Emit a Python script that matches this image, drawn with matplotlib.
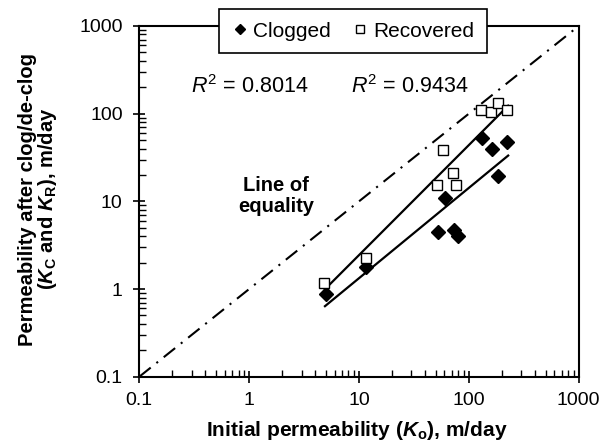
import numpy as np
import matplotlib
matplotlib.use("Agg")
import matplotlib.pyplot as plt
from matplotlib.ticker import LogLocator, FixedLocator, NullFormatter

plt.rcParams['font.family'] = ['Liberation Sans', 'DejaVu Sans']
plt.rcParams['mathtext.fontset'] = 'custom'
plt.rcParams['mathtext.rm'] = 'Liberation Sans'
plt.rcParams['mathtext.it'] = 'Liberation Sans:italic'
plt.rcParams['mathtext.bf'] = 'Liberation Sans:bold'
plt.rcParams['mathtext.bfit'] = 'Liberation Sans:bold:italic'

# ---- data ----
clogged_x = [4.97, 11.7, 52, 60.7, 73.3, 79, 131, 161, 186, 224]
clogged_y = [0.88, 1.77, 4.43, 10.8, 4.71, 4.03, 53.2, 39.2, 19.5, 47.5]
recovered_x = [4.83, 11.5, 51, 58.6, 71.3, 76.4, 129, 158, 183, 221]
recovered_y = [1.16, 2.24, 15.5, 38.5, 20.9, 15.5, 109, 105, 133, 109]

# power-law trend lines y = a * x^b
clogged_fit = (0.124, 1.03)
recovered_fit = (0.1355, 1.255)
fit_range = [4.9, 228]

r2_labels = ["$R^2$ = 0.8014", "$R^2$ = 0.9434"]
equality = [0.1, 1000]
ticks = [0.1, 1, 10, 100, 1000]
tick_labels = ["0.1", "1", "10", "100", "1000"]

fig = plt.figure(figsize=(6.11, 4.46), dpi=100)
W, H = 611, 446
ax = fig.add_axes([139.3 / W, 1 - 376.7 / H, (578.7 - 139.3) / W, (376.7 - 26) / H])
ax.set_xscale('log')
ax.set_yscale('log')
ax.set_xlim(0.1, 1000)
ax.set_ylim(0.1, 1000)

# line of equality
ax.plot(equality, equality, color='black', lw=1.5, linestyle=(0, (7, 3.5, 1, 3.5)))

# trend lines
xf = np.array(fit_range)
for a, b in (clogged_fit, recovered_fit):
    ax.plot(xf, a * xf ** b, color='black', lw=1.6)

ax.plot(clogged_x, clogged_y, linestyle='none', marker='D', markersize=7.2,
        color='black', label='Clogged')
ax.plot(recovered_x, recovered_y, linestyle='none', marker='s', markersize=7.5,
        markerfacecolor='white', markeredgecolor='black', markeredgewidth=1.0,
        label='Recovered')

# ticks
for axis in (ax.xaxis, ax.yaxis):
    axis.set_major_locator(FixedLocator(ticks))
    axis.set_minor_locator(LogLocator(base=10, subs=np.arange(2, 10)))
    axis.set_minor_formatter(NullFormatter())
ax.set_xticklabels(tick_labels)
ax.set_yticklabels(tick_labels)
ax.tick_params(which='major', direction='inout', length=8, width=1.2, labelsize=14, pad=8)
ax.tick_params(axis='x', which='major', pad=7)
ax.tick_params(which='minor', direction='in', length=5, width=1.0)
ax.tick_params(top=False, right=False, which='both')
for s in ax.spines.values():
    s.set_linewidth(1.5)

fig.text(357 / W, 1 - 430 / H, r"Initial permeability ($\mathbfit{K}_\mathbf{o}$), m/day",
         fontsize=15, fontweight='bold', ha='center', va='center')
fig.text(28 / W, 1 - 199 / H, "Permeability after clog/de-clog",
         fontsize=14.5, fontweight='bold', ha='center', va='center', rotation=90)
fig.text(48 / W, 1 - 199 / H,
         r"($\mathbfit{K}_\mathbf{C}$ and $\mathbfit{K}_\mathbf{R}$), m/day",
         fontsize=14.5, fontweight='bold', ha='center', va='center', rotation=90)

# annotations
ax.text(0.251, 0.827, r2_labels[0], transform=ax.transAxes, fontsize=15.5,
        ha='center', va='center')
ax.text(0.616, 0.827, r2_labels[1], transform=ax.transAxes, fontsize=15.5,
        ha='center', va='center')
ax.text(0.311, 0.515, "Line of\nequality", transform=ax.transAxes, fontsize=14.5,
        fontweight='bold', ha='center', va='center', linespacing=1.1)

leg = ax.legend(loc='center', bbox_to_anchor=(0.4865, 0.985), ncol=2,
                fontsize=15, frameon=True, fancybox=False, framealpha=1,
                edgecolor='black', handletextpad=0.25, columnspacing=1.0,
                handlelength=0.8, borderpad=0.6, borderaxespad=0,
                markerscale=0.75)
leg.get_frame().set_linewidth(1.2)
leg.set_zorder(5)

fig.savefig('out.png', dpi=100)
